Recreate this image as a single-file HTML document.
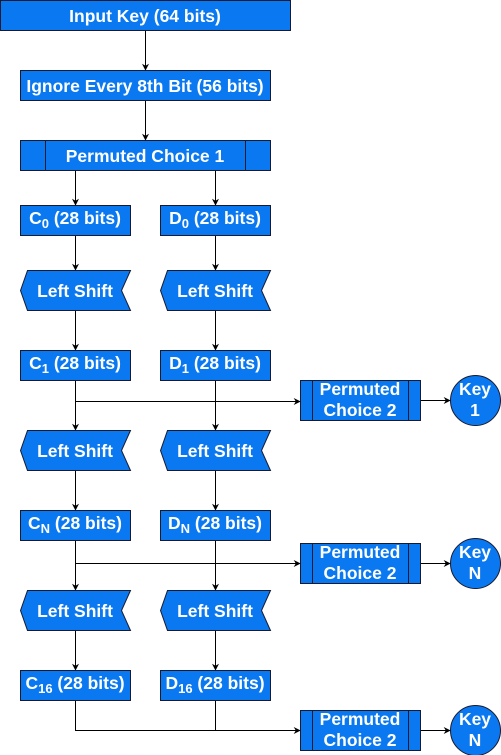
<!DOCTYPE html>
<html><head><meta charset="utf-8"><style>
html,body{margin:0;padding:0;background:#fff;width:501px;height:755px;overflow:hidden}
svg text{font-family:"Liberation Sans",Arial,sans-serif;font-weight:bold;fill:#fff;text-anchor:middle}
</style></head><body>
<svg width="501" height="755" viewBox="0 0 501 755" xmlns="http://www.w3.org/2000/svg">
<defs><marker id="a" viewBox="0 0 10 10" refX="9" refY="5" markerWidth="7" markerHeight="7" orient="auto" markerUnits="userSpaceOnUse"><path d="M0,0 L10,5 L0,10 L3,5z" fill="#000"/></marker></defs>
<g fill="#0a78f0" stroke="#1a1a2e" stroke-width="1">
<rect x="0.5" y="0.5" width="290" height="30"/>
<rect x="20.5" y="70.5" width="250" height="30"/>
<rect x="20.5" y="140.5" width="250" height="30"/>
<line x1="45.5" y1="140.5" x2="45.5" y2="170.5"/><line x1="245.5" y1="140.5" x2="245.5" y2="170.5"/>
<rect x="20.5" y="205.5" width="110" height="30"/><rect x="160.5" y="205.5" width="110" height="30"/>
<polygon points="20.5,290.5 27.5,270.5 130.5,270.5 121.5,290.5 130.5,310.5 27.5,310.5"/>
<polygon points="160.5,290.5 167.5,270.5 270.5,270.5 261.5,290.5 270.5,310.5 167.5,310.5"/>
<rect x="20.5" y="350.5" width="110" height="30"/><rect x="160.5" y="350.5" width="110" height="30"/>
<polygon points="20.5,450.5 27.5,430.5 130.5,430.5 121.5,450.5 130.5,470.5 27.5,470.5"/>
<polygon points="160.5,450.5 167.5,430.5 270.5,430.5 261.5,450.5 270.5,470.5 167.5,470.5"/>
<rect x="20.5" y="510.5" width="110" height="30"/><rect x="160.5" y="510.5" width="110" height="30"/>
<polygon points="20.5,610.5 27.5,590.5 130.5,590.5 121.5,610.5 130.5,630.5 27.5,630.5"/>
<polygon points="160.5,610.5 167.5,590.5 270.5,590.5 261.5,610.5 270.5,630.5 167.5,630.5"/>
<rect x="20.5" y="670.5" width="110" height="30"/><rect x="160.5" y="670.5" width="110" height="30"/>
<rect x="300.5" y="380.5" width="120" height="40"/><line x1="312.5" y1="380.5" x2="312.5" y2="420.5"/><line x1="408.5" y1="380.5" x2="408.5" y2="420.5"/>
<rect x="300.5" y="543.5" width="120" height="40"/><line x1="312.5" y1="543.5" x2="312.5" y2="583.5"/><line x1="408.5" y1="543.5" x2="408.5" y2="583.5"/>
<rect x="300.5" y="710.5" width="120" height="40"/><line x1="312.5" y1="710.5" x2="312.5" y2="750.5"/><line x1="408.5" y1="710.5" x2="408.5" y2="750.5"/>
<circle cx="475.5" cy="400.5" r="25"/><circle cx="475.5" cy="563.5" r="25"/><circle cx="475.5" cy="730.5" r="25"/>
</g>
<g stroke="#000" stroke-width="1" fill="none">
<line x1="145.5" y1="31" x2="145.5" y2="70" marker-end="url(#a)"/>
<line x1="145.5" y1="101" x2="145.5" y2="140" marker-end="url(#a)"/>
<line x1="75.5" y1="171" x2="75.5" y2="205" marker-end="url(#a)"/>
<line x1="215.5" y1="171" x2="215.5" y2="205" marker-end="url(#a)"/>
<line x1="75.5" y1="236" x2="75.5" y2="270" marker-end="url(#a)"/>
<line x1="215.5" y1="236" x2="215.5" y2="270" marker-end="url(#a)"/>
<line x1="75.5" y1="311" x2="75.5" y2="350" marker-end="url(#a)"/>
<line x1="215.5" y1="311" x2="215.5" y2="350" marker-end="url(#a)"/>
<line x1="75.5" y1="381" x2="75.5" y2="430" marker-end="url(#a)"/>
<line x1="215.5" y1="381" x2="215.5" y2="430" marker-end="url(#a)"/>
<line x1="75.5" y1="401.5" x2="300" y2="401.5" marker-end="url(#a)"/>
<line x1="421" y1="400.5" x2="450" y2="400.5" marker-end="url(#a)"/>
<line x1="75.5" y1="471" x2="75.5" y2="510" marker-end="url(#a)"/>
<line x1="215.5" y1="471" x2="215.5" y2="510" marker-end="url(#a)"/>
<line x1="75.5" y1="541" x2="75.5" y2="590" marker-end="url(#a)"/>
<line x1="215.5" y1="541" x2="215.5" y2="590" marker-end="url(#a)"/>
<line x1="75.5" y1="563.5" x2="300" y2="563.5" marker-end="url(#a)"/>
<line x1="421" y1="563.5" x2="450" y2="563.5" marker-end="url(#a)"/>
<line x1="75.5" y1="631" x2="75.5" y2="670" marker-end="url(#a)"/>
<line x1="215.5" y1="631" x2="215.5" y2="670" marker-end="url(#a)"/>
<polyline points="75.5,701 75.5,730.5 300,730.5" marker-end="url(#a)"/>
<line x1="215.5" y1="701" x2="215.5" y2="730.5"/>
<line x1="421" y1="730.5" x2="450" y2="730.5" marker-end="url(#a)"/>
</g>
<g font-size="17.5">
<text x="145" y="22">Input Key (64 bits)</text>
<text x="145" y="92">Ignore Every 8th Bit (56 bits)</text>
<text x="145" y="162">Permuted Choice 1</text>
<text x="75" y="224">C<tspan font-size="13" dy="4">0</tspan><tspan dy="-4"> (28 bits)</tspan></text>
<text x="215" y="224">D<tspan font-size="13" dy="4">0</tspan><tspan dy="-4"> (28 bits)</tspan></text>
<text x="75" y="297">Left Shift</text><text x="215" y="297">Left Shift</text>
<text x="75" y="369">C<tspan font-size="13" dy="4">1</tspan><tspan dy="-4"> (28 bits)</tspan></text>
<text x="215" y="369">D<tspan font-size="13" dy="4">1</tspan><tspan dy="-4"> (28 bits)</tspan></text>
<text x="75" y="457">Left Shift</text><text x="215" y="457">Left Shift</text>
<text x="75" y="529">C<tspan font-size="13" dy="4">N</tspan><tspan dy="-4"> (28 bits)</tspan></text>
<text x="215" y="529">D<tspan font-size="13" dy="4">N</tspan><tspan dy="-4"> (28 bits)</tspan></text>
<text x="75" y="617">Left Shift</text><text x="215" y="617">Left Shift</text>
<text x="75" y="689">C<tspan font-size="13" dy="4">16</tspan><tspan dy="-4"> (28 bits)</tspan></text>
<text x="215" y="689">D<tspan font-size="13" dy="4">16</tspan><tspan dy="-4"> (28 bits)</tspan></text>
<text x="360" y="395">Permuted</text><text x="360" y="416">Choice 2</text>
<text x="360" y="558">Permuted</text><text x="360" y="579">Choice 2</text>
<text x="360" y="725">Permuted</text><text x="360" y="746">Choice 2</text>
<text x="475" y="395">Key</text><text x="475" y="416">1</text>
<text x="475" y="558">Key</text><text x="475" y="579">N</text>
<text x="475" y="725">Key</text><text x="475" y="746">N</text>
</g>
</svg>
</body></html>
